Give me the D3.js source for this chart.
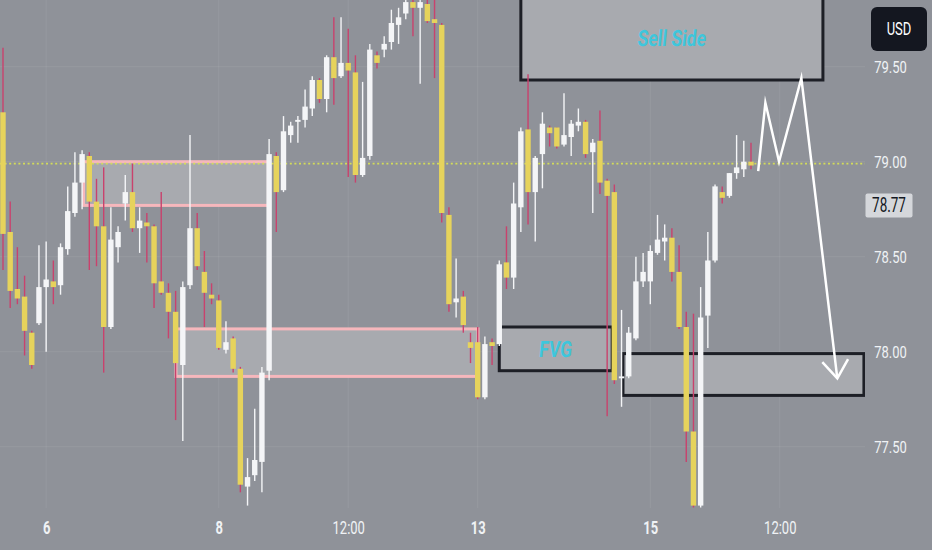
<!DOCTYPE html>
<html><head><meta charset="utf-8">
<script src="https://cdn.jsdelivr.net/npm/d3@7"></script>
<style>html,body{margin:0;padding:0;background:#8f9299;overflow:hidden}</style>
</head><body><svg id="c" width="932" height="550"></svg>
<script>
// ---- DATA (2h candles, index = bar number) ----
const opens  = [79.26,78.63,78.33,78.29,78.10,78.15,78.34,78.37,78.35,78.54,78.73,78.89,79.03,78.79,78.66,78.13,78.55,78.78,78.84,78.65,78.68,78.66,78.37,78.31,78.21,77.93,78.35,78.65,78.42,78.30,78.27,78.01,78.07,77.91,77.29,77.35,77.42,77.90,79.03,78.85,79.14,79.21,79.22,79.28,79.43,79.33,79.55,79.45,79.52,79.47,78.93,79.03,79.56,79.59,79.63,79.72,79.78,79.84,79.81,79.83,79.75,79.72,78.72,78.26,78.29,78.05,78.05,77.76,78.05,78.04,78.47,78.39,78.76,79.17,78.84,79.04,79.18,79.18,79.09,79.13,79.19,79.21,79.05,79.11,78.90,78.84,77.86,77.87,78.07,78.37,78.37,78.52,78.58,78.60,78.42,78.13,77.58,77.19,78.19,78.48,78.84,78.82,78.94,78.96,79.00];
const highs  = [79.60,78.79,78.55,78.40,78.11,78.56,78.58,78.48,78.57,78.87,79.05,79.06,79.05,78.91,78.97,78.76,78.66,78.93,78.99,78.76,78.73,78.67,78.84,78.36,78.32,78.37,79.14,78.73,78.53,78.36,78.30,78.16,78.08,77.92,77.44,77.70,77.92,79.12,79.05,79.24,79.21,79.24,79.38,79.45,79.44,79.56,79.76,79.76,79.70,79.56,79.42,79.62,79.58,79.66,79.80,79.81,79.87,79.87,79.86,79.86,79.86,79.73,78.76,78.49,78.32,78.10,78.13,78.08,78.07,78.48,78.66,78.89,79.18,79.46,79.03,79.26,79.19,79.18,79.36,79.22,79.28,79.22,79.12,79.27,78.91,78.88,78.22,78.13,78.50,78.52,78.56,78.72,78.67,78.65,78.56,78.21,78.20,78.34,78.63,78.88,78.87,78.94,79.14,79.11,79.10];
const lows   = [78.43,78.23,78.25,77.98,77.91,78.14,78.00,78.25,78.30,78.51,78.71,78.75,78.43,78.45,77.89,78.12,78.47,78.69,78.63,78.52,78.47,78.23,78.30,78.07,77.64,77.53,78.33,78.43,78.13,78.25,78.01,77.99,77.89,77.26,77.19,77.32,77.26,77.85,78.63,78.84,79.10,79.10,79.18,79.24,79.31,79.26,79.30,79.44,78.92,78.89,78.92,79.01,79.49,79.55,79.59,79.62,79.75,79.66,79.41,79.73,79.44,78.68,78.21,78.18,78.10,77.94,77.75,77.75,77.93,78.03,78.33,78.33,78.63,78.67,78.58,78.86,79.08,79.07,79.08,79.03,79.16,79.02,78.73,78.83,77.66,77.83,77.71,77.86,78.06,78.34,78.25,78.51,78.48,78.37,78.12,77.42,77.18,77.18,78.02,78.47,78.78,78.81,78.91,78.92,78.96];
const closes = [78.62,78.32,78.28,78.11,77.93,78.34,78.38,78.34,78.55,78.74,78.89,79.04,78.79,78.66,78.13,78.59,78.63,78.84,78.65,78.69,78.66,78.36,78.31,78.21,77.94,78.34,78.65,78.45,78.31,78.28,78.02,78.05,77.91,77.30,77.34,77.43,77.89,79.04,78.84,79.16,79.19,79.22,79.29,79.43,79.33,79.55,79.44,79.52,79.48,78.93,79.02,79.59,79.52,79.62,79.73,79.76,79.84,79.81,79.84,79.74,79.73,78.73,78.25,78.28,78.14,78.02,77.76,78.04,78.03,78.46,78.39,78.78,79.16,78.84,79.02,79.20,79.15,79.08,79.14,79.20,79.21,79.04,79.10,78.89,78.82,77.85,77.87,78.10,78.37,78.42,78.53,78.59,78.60,78.42,78.13,77.58,77.19,78.18,78.48,78.87,78.81,78.94,78.97,79.00,78.98];

const yTicks = [79.50, 79.00, 78.50, 78.00, 77.50];
const xTickIdx = [6, 30, 48, 66, 90, 108];
const xTickLabels = ["6", "8", "12:00", "13", "15", "12:00"];

// drawn zones (bar index range, price range)
const zoneStart = [11.2, 24.05, 72.0, 69.0, 86.2];
const zoneEnd   = [36.9, 66.05, 114.0, 84.7, 119.7];
const zoneHigh  = [79.00, 78.12, 79.87, 78.13, 77.99];
const zoneLow   = [78.77, 77.87, 79.43, 77.90, 77.77];
const zoneKind  = ["pink", "pink", "black", "black", "black"];
const zoneText  = ["", "", "Sell Side", "FVG", ""];

// projected path (bar index, price)
const pathIdx   = [105, 106, 107.9, 111, 116];
const pathPrice = [78.95, 79.31, 79.00, 79.44, 77.86];

const priceLine = 78.99;
const lastPrice = 78.77;
const currency = "USD";

// ---- STYLE ----
const W = 932, H = 550, plotR = 865, plotB = 508;
const BG = "#8f9299", GRID = "rgba(255,255,255,0.07)";
const BOX_FILL = "#a8aaaf", PINK = "#f6b7bc", BLACK = "#1d1f26";
const YELLOW = "#e6d35c", WHITE = "#f4f5f7", WICK_RED = "#c9426d";
const CYAN = "#3ec6dc", TXT = "#f0f2f5";

const x = d3.scaleLinear().domain([0, 104]).range([3, 751]);
const y = d3.scaleLinear().domain([77.5, 79.5]).range([446.7, 66.7]);

const svg = d3.select("#c");
svg.append("rect").attr("width", W).attr("height", H).attr("fill", BG);
svg.append("defs").append("clipPath").attr("id", "plot")
  .append("rect").attr("x", 0).attr("y", 0).attr("width", plotR).attr("height", plotB);
const plot = svg.append("g").attr("clip-path", "url(#plot)");

function stext(parent, tx, ty, str, size, color, weight, sy, skew) {
  return parent.append("text")
    .attr("transform", `translate(${tx},${ty}) scale(1,${sy || 1.35}) skewX(${skew || 0})`)
    .attr("text-anchor", "middle").attr("dominant-baseline", "central")
    .attr("font-family", "Roboto, sans-serif").attr("font-size", size)
    .attr("font-weight", weight || 400)
    .attr("fill", color).text(str);
}

// grid
plot.selectAll(".hg").data(yTicks).join("line").attr("class", "hg")
  .attr("x1", 0).attr("x2", plotR).attr("y1", d => y(d)).attr("y2", d => y(d))
  .attr("stroke", GRID).attr("stroke-width", 1);
plot.selectAll(".vg").data(xTickIdx).join("line").attr("class", "vg")
  .attr("x1", d => x(d)).attr("x2", d => x(d)).attr("y1", 0).attr("y2", plotB)
  .attr("stroke", GRID).attr("stroke-width", 1);

// zones
const zones = zoneStart.map((s, i) => ({ s, e: zoneEnd[i], hi: zoneHigh[i], lo: zoneLow[i], kind: zoneKind[i], text: zoneText[i] }));
plot.selectAll(".zone").data(zones).join("rect").attr("class", "zone")
  .attr("x", d => x(d.s)).attr("width", d => x(d.e) - x(d.s))
  .attr("y", d => y(d.hi)).attr("height", d => y(d.lo) - y(d.hi))
  .attr("fill", BOX_FILL)
  .attr("stroke", d => d.kind === "pink" ? PINK : BLACK)
  .attr("stroke-width", 3);

// price line (dotted)
plot.append("line").attr("x1", 0).attr("x2", plotR).attr("y1", y(priceLine)).attr("y2", y(priceLine))
  .attr("stroke", "#d3dc5a").attr("stroke-width", 1.6).attr("stroke-dasharray", "2,2.6");

// candles
const candles = opens.map((o, i) => ({ i, o, h: highs[i], l: lows[i], c: closes[i] }));
const bw = 5.4;
const cg = plot.selectAll(".candle").data(candles).join("g").attr("class", "candle");
cg.append("line")
  .attr("x1", d => x(d.i)).attr("x2", d => x(d.i))
  .attr("y1", d => y(d.h)).attr("y2", d => y(d.l))
  .attr("stroke", d => d.c >= d.o ? WHITE : WICK_RED).attr("stroke-width", 1.4);
cg.append("rect")
  .attr("x", d => x(d.i) - bw / 2).attr("width", bw)
  .attr("y", d => y(Math.max(d.o, d.c)))
  .attr("height", d => Math.max(1.5, Math.abs(y(d.o) - y(d.c))))
  .attr("fill", d => d.c >= d.o ? WHITE : YELLOW);

// zone labels
zones.filter(z => z.text).forEach(z => {
  stext(plot, (x(z.s) + x(z.e)) / 2, (y(z.hi) + y(z.lo)) / 2, z.text, 17.5, CYAN, 700, 1.28, -7);
});

// projected path + arrow head
const pts = pathIdx.map((t, i) => [x(t), y(pathPrice[i])]);
plot.append("path").attr("d", d3.line()(pts)).attr("fill", "none")
  .attr("stroke", "#ffffff").attr("stroke-width", 2.5).attr("stroke-linejoin", "miter").attr("stroke-miterlimit", 20);
const [tx, ty] = pts[pts.length - 1], [px, py] = pts[pts.length - 2];
const ang = Math.atan2(ty - py, tx - px), L = 22, a = 0.63;
const head = [[tx - L * Math.cos(ang - a), ty - L * Math.sin(ang - a)], [tx, ty], [tx - L * Math.cos(ang + a), ty - L * Math.sin(ang + a)]];
plot.append("path").attr("d", d3.line()(head)).attr("fill", "none")
  .attr("stroke", "#ffffff").attr("stroke-width", 2.5).attr("stroke-linejoin", "miter");

// y axis
const ya = svg.append("g").attr("transform", "translate(890.5,0)")
  .call(d3.axisRight(y).tickValues(yTicks).tickFormat(d3.format(".2f")).tickSize(0).tickPadding(0));
ya.select(".domain").remove();
ya.selectAll("text").attr("x", 0).attr("dy", null)
  .attr("text-anchor", "middle").attr("dominant-baseline", "central")
  .attr("transform", "scale(1,1.3)")
  .attr("font-family", "Roboto, sans-serif").attr("font-size", 13).attr("fill", TXT);

// x axis
const xa = svg.append("g").attr("transform", "translate(0,528)")
  .call(d3.axisBottom(x).tickValues(xTickIdx).tickFormat((d, i) => xTickLabels[i]).tickSize(0).tickPadding(0));
xa.select(".domain").remove();
xa.selectAll("text").attr("y", 0).attr("dy", null)
  .attr("text-anchor", "middle").attr("dominant-baseline", "central")
  .attr("transform", "scale(1,1.35)")
  .attr("font-family", "Roboto, sans-serif").attr("font-size", 13)
  .attr("font-weight", (d, i) => xTickLabels[i].includes(":") ? 400 : 700)
  .attr("fill", TXT);

// last price label
svg.append("rect").attr("x", 865.5).attr("y", y(lastPrice) - 12).attr("width", 47).attr("height", 24)
  .attr("rx", 2).attr("fill", "#d5d7db");
stext(svg, 889, y(lastPrice), d3.format(".2f")(lastPrice), 13.5, "#131722", 400, 1.5);

// currency box
svg.append("rect").attr("x", 871).attr("y", 7).attr("width", 56).attr("height", 44).attr("rx", 6).attr("fill", "#141720");
stext(svg, 899, 29, currency, 13, "#ffffff", 400);
</script>
</body></html>
